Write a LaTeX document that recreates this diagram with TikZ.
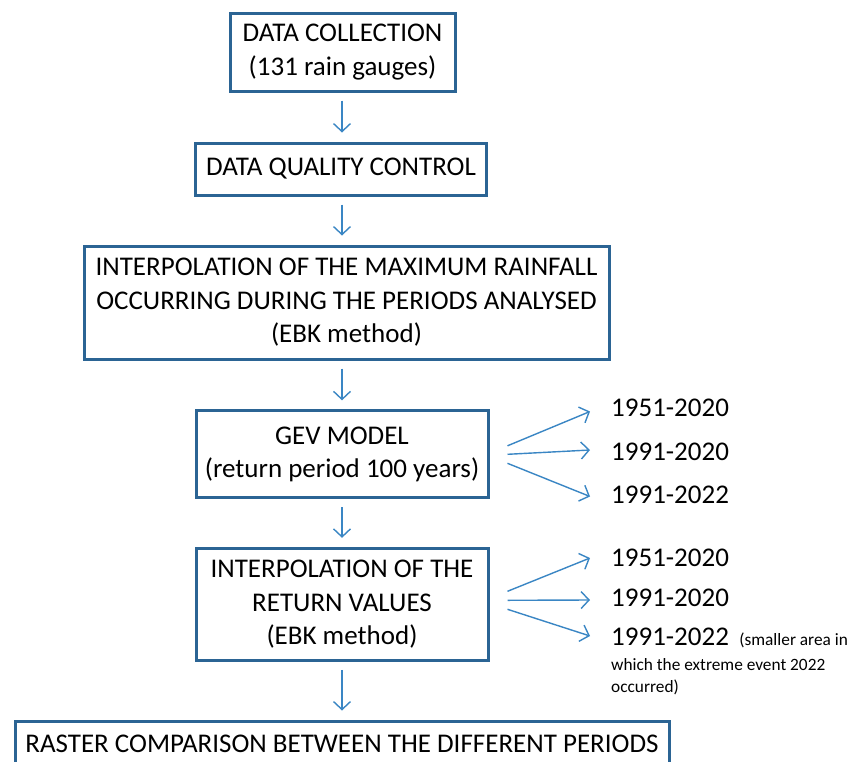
\documentclass[tikz,border=0pt]{standalone}
\usepackage{fontspec}
\setmainfont{Carlito}
\usetikzlibrary{arrows.meta}
\definecolor{boxc}{HTML}{2B6494}
\definecolor{arrc}{HTML}{3A86C4}
\tikzset{
  box/.style={draw=boxc, line width=3pt, align=center, inner sep=0pt, fill=white,
    font=\fontsize{27}{33.5}\selectfont},
  arr/.style={draw=arrc, line width=1.4pt, -{Straight Barb[length=8pt,width=17pt,line width=1.4pt]}},
  big/.style={inner sep=0pt, font=\fontsize{27}{33}\selectfont, anchor=west},
  small/.style={inner sep=0pt, font=\fontsize{17.3}{22}\selectfont},
}
\begin{document}
\begin{tikzpicture}[x=1pt,y=-1pt]
\useasboundingbox (0,0) rectangle (857,761);
\clip (0,0) rectangle (857,761);
\fill[white] (0,0) rectangle (857,761);
% boxes
\node[box, minimum width=225pt, minimum height=78pt] (b1) at (342.5,52) {DATA COLLECTION\\(131 rain gauges)};
\node[box, minimum width=291pt, minimum height=52pt] (b2) at (341,169) {DATA QUALITY CONTROL};
\node[box, minimum width=525pt, minimum height=113pt] (b3) at (346.5,302.5) {INTERPOLATION OF THE MAXIMUM RAINFALL\\OCCURRING DURING THE PERIODS ANALYSED\\(EBK method)};
\node[box, minimum width=292pt, minimum height=87pt] (b4) at (342,454.3) {GEV MODEL\\(return period 100 years)};
\node[box, minimum width=292pt, minimum height=112pt] (b5) at (342,604.3) {INTERPOLATION OF THE\\RETURN VALUES\\(EBK method)};
\node[box, minimum width=654pt, minimum height=46pt] (b6) at (342,744) {RASTER COMPARISON BETWEEN THE DIFFERENT PERIODS};
% vertical arrows (all at x = 342)
\coordinate (ax) at (342,0);
\draw[arr, shorten <=8pt, shorten >=9pt] (ax |- b1.south) -- (ax |- b2.north);
\draw[arr, shorten <=8pt, shorten >=9pt] (ax |- b2.south) -- (ax |- b3.north);
\draw[arr, shorten <=8pt, shorten >=9pt] (ax |- b3.south) -- (ax |- b4.north);
\draw[arr, shorten <=8pt, shorten >=9pt] (ax |- b4.south) -- (ax |- b5.north);
\draw[arr, shorten <=8pt, shorten >=9pt] (ax |- b5.south) -- (ax |- b6.north);
% labels GEV
\node[big] (g1) at (611,408) {1951-2020};
\node[big] (g2) at (611,452) {1991-2020};
\node[big] (g3) at (611,495) {1991-2022};
\draw[arr] ([xshift=18pt,yshift=8.5pt]b4.east) -- ([xshift=-21pt,yshift=-3.5pt]g1.west);
\draw[arr] ([xshift=18pt]b4.east) -- ([xshift=-21pt,yshift=2pt]g2.west);
\draw[arr] ([xshift=18pt,yshift=-9pt]b4.east) -- ([xshift=-21pt,yshift=-1.5pt]g3.west);
% labels interpolation
\node[big] (r1) at (611,558) {1951-2020};
\node[big] (r2) at (611,598) {1991-2020};
\node[big] (r3) at (611,637) {1991-2022};
\node[small, anchor=base west] (r3b) at ([xshift=10pt]r3.base east) {(smaller area in};
\node[small, anchor=west] (r3c) at (611,665) {which the extreme event 2022};
\node[small, anchor=west] (r3d) at (611,687) {occurred)};
\draw[arr] ([xshift=18pt,yshift=13pt]b5.east) -- ([xshift=-21pt]r1.west);
\draw[arr] ([xshift=18pt,yshift=4pt]b5.east) -- ([xshift=-21pt,yshift=-2pt]r2.west);
\draw[arr] ([xshift=18pt,yshift=-5pt]b5.east) -- ([xshift=-21pt,yshift=1pt]r3.west);
\end{tikzpicture}
\end{document}
